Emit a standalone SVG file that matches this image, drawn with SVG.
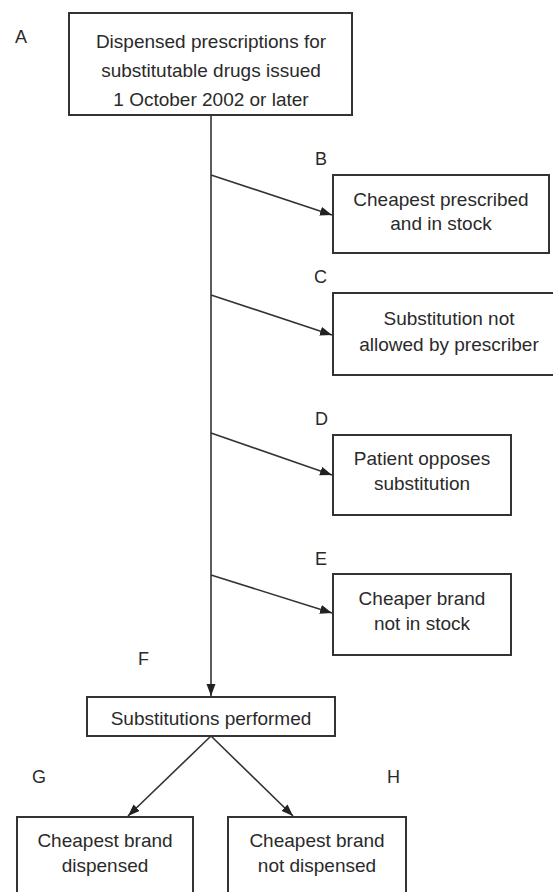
<svg xmlns="http://www.w3.org/2000/svg" width="553" height="892" viewBox="0 0 553 892">
<style>
.box{fill:#fff;stroke:#333;stroke-width:2}
.t{font-family:"Liberation Sans",Arial,sans-serif;font-size:19px;fill:#2a2a2a;text-anchor:middle}
.lab{font-family:"Liberation Sans",Arial,sans-serif;font-size:18px;fill:#2a2a2a}
.c{stroke:#333;stroke-width:1.6;fill:none}
</style>
<defs>
<marker id="ah" markerUnits="userSpaceOnUse" markerWidth="14" markerHeight="10" refX="12" refY="4.5" orient="auto">
<path d="M0,0 L12,4.5 L0,9 z" fill="#222"/>
</marker>
</defs>
<rect width="553" height="892" fill="#fff"/>
<g id="labels">
<text class="lab" x="15" y="43">A</text>
<text class="lab" x="315" y="165">B</text>
<text class="lab" x="314" y="283">C</text>
<text class="lab" x="315" y="425">D</text>
<text class="lab" x="315" y="565">E</text>
<text class="lab" x="138" y="665">F</text>
<text class="lab" x="32" y="783">G</text>
<text class="lab" x="387" y="783">H</text>
</g>
<g id="connectors">
<line class="c" x1="211" y1="115" x2="211" y2="696" marker-end="url(#ah)"/>
<line class="c" x1="211" y1="175" x2="332" y2="215" marker-end="url(#ah)"/>
<line class="c" x1="211" y1="295" x2="332" y2="335" marker-end="url(#ah)"/>
<line class="c" x1="211" y1="433" x2="332" y2="475" marker-end="url(#ah)"/>
<line class="c" x1="211" y1="575" x2="332" y2="613" marker-end="url(#ah)"/>
<line class="c" x1="211" y1="736" x2="128" y2="816" marker-end="url(#ah)"/>
<line class="c" x1="211" y1="736" x2="293" y2="816" marker-end="url(#ah)"/>
</g>
<g id="nodeA">
<rect class="box" x="69" y="13" width="283" height="102"/>
<text class="t" x="211" y="48">Dispensed prescriptions for</text>
<text class="t" x="211" y="77">substitutable drugs issued</text>
<text class="t" x="211" y="106">1 October 2002 or later</text>
</g>
<g id="nodeB">
<rect class="box" x="333" y="175" width="216" height="78"/>
<text class="t" x="441" y="206">Cheapest prescribed</text>
<text class="t" x="441" y="230">and in stock</text>
</g>
<g id="nodeC">
<rect class="box" x="333" y="293" width="232" height="82"/>
<text class="t" x="449" y="325">Substitution not</text>
<text class="t" x="449" y="351">allowed by prescriber</text>
</g>
<g id="nodeD">
<rect class="box" x="333" y="435" width="178" height="80"/>
<text class="t" x="422" y="465">Patient opposes</text>
<text class="t" x="422" y="490">substitution</text>
</g>
<g id="nodeE">
<rect class="box" x="333" y="574" width="178" height="81"/>
<text class="t" x="422" y="605">Cheaper brand</text>
<text class="t" x="422" y="630">not in stock</text>
</g>
<g id="nodeF">
<rect class="box" x="87" y="697" width="248" height="39"/>
<text class="t" x="211" y="725">Substitutions performed</text>
</g>
<g id="nodeG">
<rect class="box" x="17" y="817" width="176" height="85"/>
<text class="t" x="105" y="847">Cheapest brand</text>
<text class="t" x="105" y="872">dispensed</text>
</g>
<g id="nodeH">
<rect class="box" x="228" y="817" width="178" height="85"/>
<text class="t" x="317" y="847">Cheapest brand</text>
<text class="t" x="317" y="872">not dispensed</text>
</g>
</svg>
